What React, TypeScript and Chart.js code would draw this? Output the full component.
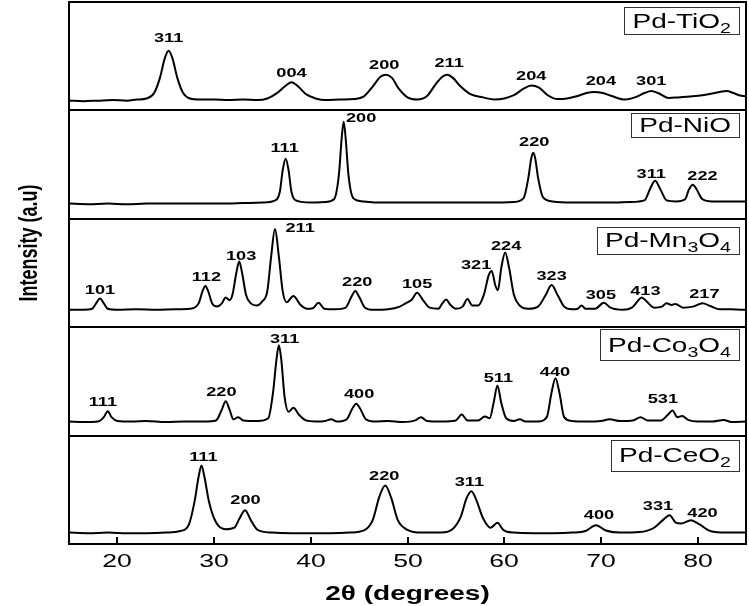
import React, { useEffect, useRef } from "react";
import { Chart, registerables } from "chart.js";
Chart.register(...registerables);

// ---------- data ----------
const xMin = 15;
const xMax = 85;
const xTickValues = [20, 30, 40, 50, 60, 70, 80];
const xTitle = "2θ (degrees)";
const yTitle = "Intensity (a.u)";

// panel names, bottom to top; odd-index parts are subscripts
const panelNames: string[][] = [
  ["Pd-CeO", "2"],
  ["Pd-Co", "3", "O", "4"],
  ["Pd-Mn", "3", "O", "4"],
  ["Pd-NiO"],
  ["Pd-TiO", "2"],
];

// intensity in % of panel height, [2θ, I]
const ceo2: number[][] = [
  [15, 10.5], [17, 10], [19, 10.5], [21, 10], [23, 10], [25, 10.5], [26.5, 12], [27.4, 18],
  [28.0, 40], [28.4, 62], [28.7, 72.5], [29.0, 62], [29.5, 38], [30.2, 20], [31.2, 13.5],
  [32.1, 15], [32.6, 23], [33.2, 31.2], [33.8, 22], [34.5, 13], [36, 10.5], [38, 10], [40, 10],
  [42, 10], [44, 10.5], [45.5, 12.5], [46.4, 22], [47.1, 44], [47.7, 54], [48.3, 43], [49.0, 22],
  [50.0, 13], [51.5, 10.5], [53.5, 10.5], [54.7, 14], [55.5, 25], [56.1, 42], [56.6, 48.6],
  [57.1, 41], [57.8, 24], [58.6, 15], [59.3, 19.6], [59.9, 13], [61, 10.5], [63, 10], [65, 10],
  [67, 10.5], [68.4, 12], [69.5, 17.4], [70.5, 12.5], [72, 10.5], [74, 11], [75.5, 15],
  [76.4, 22], [77.1, 26.6], [77.7, 20], [78.3, 19], [79.3, 22], [80.2, 18], [81.3, 12],
  [83, 10.5], [85, 10.5],
];
const co3o4: number[][] = [
  [15, 13], [16.5, 12.5], [18, 13], [18.6, 17], [19.0, 22.5], [19.4, 17], [20, 13.5], [21.5, 13],
  [23, 13.5], [25, 12.5], [27, 13], [29, 13], [30.2, 14], [30.8, 24], [31.2, 31.8], [31.6, 24],
  [32.0, 15], [32.5, 17], [33.0, 14], [34.5, 13.5], [35.6, 16], [36.1, 40], [36.45, 70],
  [36.7, 83.3], [36.95, 70], [37.3, 35], [37.7, 22], [38.2, 25.6], [38.8, 19], [39.5, 14],
  [40.5, 13], [41.5, 13.5], [42.1, 15], [42.7, 13], [43.7, 15], [44.3, 25], [44.7, 29.3],
  [45.1, 25], [45.7, 15], [46.5, 13], [48, 13.5], [49.5, 12.5], [50.8, 14], [51.4, 17],
  [52.0, 13.5], [53.5, 13], [55.0, 14], [55.6, 19.4], [56.2, 14], [57.3, 14], [58.0, 17.7],
  [58.5, 16], [58.9, 30], [59.3, 46.3], [59.7, 30], [60.2, 16], [61.0, 13.5], [61.6, 15],
  [62.2, 13], [63.5, 13], [64.4, 17], [64.9, 40], [65.3, 53], [65.7, 40], [66.2, 17], [67, 13.5],
  [68.5, 13], [70, 13.5], [70.9, 15], [72.0, 13.5], [73.3, 14], [74.1, 17], [74.8, 14],
  [76.2, 14], [76.9, 19], [77.4, 23.1], [77.9, 17], [78.4, 18], [79.0, 14.5], [80, 13],
  [81.5, 13], [82.7, 14.5], [83.5, 12.5], [85, 13],
];
const mn3o4: number[][] = [
  [15, 16], [16.5, 16], [17.4, 17], [17.8, 22], [18.2, 26.5], [18.6, 22], [19, 17], [20, 16],
  [22, 16.5], [24, 16], [26, 16.5], [27.5, 17], [28.4, 22], [28.8, 33], [29.1, 38], [29.4, 33],
  [29.8, 22], [30.3, 19], [30.8, 22], [31.2, 27.5], [31.6, 25], [31.9, 30], [32.3, 50],
  [32.6, 60.5], [32.9, 50], [33.3, 30], [33.8, 22], [34.4, 20], [35.0, 24], [35.5, 33],
  [35.9, 65], [36.3, 90.5], [36.7, 65], [37.1, 33], [37.5, 23], [38.2, 28.7], [38.9, 21],
  [39.6, 17], [40.2, 17.5], [40.8, 22.5], [41.4, 17], [42.5, 16.5], [43.6, 18], [44.2, 28],
  [44.6, 33.3], [45.0, 28], [45.6, 18], [46.5, 16], [48, 16.5], [49.2, 19], [49.8, 22],
  [50.4, 25], [51.0, 31.8], [51.6, 25], [52.3, 18], [53.2, 17], [53.6, 22], [54.0, 25.6],
  [54.4, 21], [55.0, 17], [55.7, 19], [56.2, 26], [56.7, 20], [57.3, 20], [57.9, 30],
  [58.4, 48], [58.7, 51.8], [59.1, 38], [59.35, 34], [59.7, 55], [60.1, 69], [60.5, 55],
  [61.0, 30], [61.6, 20], [62.5, 17], [63.5, 19], [64.3, 30], [64.9, 38.9], [65.5, 30],
  [66.2, 19], [67, 16.5], [67.6, 17], [68.0, 20], [68.4, 17], [69.4, 17], [70.3, 22.5],
  [71.0, 18], [72.3, 16], [73.2, 18], [73.8, 24], [74.2, 27.5], [74.7, 24], [75.5, 18],
  [76.3, 19], [76.8, 22], [77.3, 20.5], [77.7, 21.5], [78.5, 18], [79.5, 19], [80.5, 22],
  [81.3, 19.5], [82.3, 16.5], [83.5, 16.5], [85, 16],
];
const nio: number[][] = [
  [15, 14], [17, 13.5], [19, 14], [21, 13.5], [23, 14], [25, 14], [27, 14], [29, 14], [31, 14],
  [33, 14.5], [35, 15], [36.2, 16.5], [36.8, 25], [37.1, 45], [37.4, 55.5], [37.7, 45],
  [38.0, 25], [38.6, 16.5], [40, 15], [41.5, 15.5], [42.4, 18], [42.9, 40], [43.2, 75],
  [43.4, 89.5], [43.6, 75], [43.9, 40], [44.4, 19], [45.5, 16], [47, 15], [49, 15], [51, 15],
  [53, 15], [55, 15], [57, 15], [59, 15], [61, 15.5], [62.0, 19], [62.5, 38], [62.8, 56],
  [63.0, 61], [63.2, 56], [63.5, 38], [64.0, 20], [65, 16], [67, 15], [69, 15], [71, 15],
  [73, 15.5], [74.5, 17], [75.1, 28], [75.6, 35], [76.1, 28], [76.8, 17], [77.8, 16],
  [78.7, 18], [79.1, 27], [79.5, 31.5], [79.9, 27], [80.5, 18], [81.5, 16], [83, 16], [85, 16],
];
const tio2: number[][] = [
  [15, 9], [16.5, 8.5], [18, 9], [19.5, 9.5], [21, 9], [22, 10], [23, 11], [23.8, 16],
  [24.4, 30], [24.9, 48], [25.3, 55], [25.7, 48], [26.2, 30], [26.8, 16], [27.5, 11],
  [28.5, 10], [30, 10], [31.5, 9.5], [33, 10], [34.5, 9.5], [35.5, 11], [36.5, 16], [37.3, 22],
  [38, 26], [38.7, 22], [39.5, 15], [40.5, 11], [41.5, 9.5], [43, 10], [44.5, 10.5], [45.5, 13],
  [46.4, 22], [47.2, 31], [47.8, 33], [48.4, 30], [49.1, 20], [50, 12], [51, 10], [52, 13],
  [52.9, 24], [53.6, 31], [54.1, 33], [54.7, 30], [55.5, 22], [56.5, 15], [57.8, 12], [59, 10],
  [60, 11], [61, 14], [62, 20], [62.8, 23], [63.6, 21], [64.5, 14], [65.5, 10.5], [66.5, 11],
  [67.5, 13], [68.5, 16], [69.3, 17], [70.2, 16], [71.2, 13], [72.5, 10], [73.5, 12],
  [74.5, 16], [75.2, 18], [75.9, 16], [77, 11.5], [78, 12], [79.5, 13], [80.5, 14],
  [81.5, 15.5], [82.3, 17], [83, 18], [83.7, 16], [84.3, 14], [85, 13],
];

// peak (hkl) labels: [2θ, level % of panel, text]
const ceo2Peaks: [number, number, string][] = [
  [28.9, 80, "111"], [33.25, 40.4, "200"], [47.6, 62.7, "220"], [56.4, 57.2, "311"],
  [69.8, 26.6, "400"], [75.9, 34.9, "331"], [80.5, 28.2, "420"],
];
const co3o4Peaks: [number, number, string][] = [
  [18.5, 30.9, "111"], [30.75, 40, "220"], [37.3, 88.6, "311"], [45.0, 38, "400"],
  [59.4, 52.5, "511"], [65.25, 58.6, "440"], [76.4, 33, "531"],
];
const mn3o4Peaks: [number, number, string][] = [
  [18.2, 34.3, "101"], [29.2, 45.7, "112"], [32.8, 65.7, "103"], [38.9, 91.4, "211"],
  [44.8, 41, "220"], [51.0, 39.8, "105"], [57.1, 57.4, "321"], [60.2, 74.4, "224"],
  [64.9, 47.2, "323"], [70.0, 29.6, "305"], [74.6, 33.3, "413"], [80.7, 30.6, "217"],
];
const nioPeaks: [number, number, string][] = [
  [37.3, 64.5, "111"], [45.2, 92.6, "200"], [63.1, 70, "220"], [75.2, 40.7, "311"],
  [80.5, 39, "222"],
];
const tio2Peaks: [number, number, string][] = [
  [25.3, 66.5, "311"], [38.0, 34, "004"], [47.6, 41.5, "200"], [54.3, 43, "211"],
  [62.8, 31, "204"], [70.0, 27, "204"], [75.2, 26.5, "301"],
];

const series = [ceo2, co3o4, mn3o4, nio, tio2];
const peakLabels = [ceo2Peaks, co3o4Peaks, mn3o4Peaks, nioPeaks, tio2Peaks];

// ---------- styles ----------
const SX = 1.4; // horizontal text stretch
const FONT = "'Liberation Sans', Arial, sans-serif";
const boxTopOffset = [4, 2, 8, 3, 5];
const boxHeight = [31, 31, 27, 24, 27];

function stretchText(ctx: CanvasRenderingContext2D, t: string, px: number, py: number, font: string) {
  ctx.save();
  ctx.translate(px, py);
  ctx.scale(SX, 1);
  ctx.font = font;
  ctx.textAlign = "center";
  ctx.textBaseline = "middle";
  ctx.fillStyle = "#000";
  ctx.fillText(t, 0, 0);
  ctx.restore();
}

const decor = {
  id: "decor",
  beforeDraw(chart: any) {
    const ctx = chart.ctx;
    ctx.save();
    ctx.fillStyle = "#fff";
    ctx.fillRect(0, 0, chart.width, chart.height);
    ctx.restore();
  },
  afterDraw(chart: any) {
    const ctx: CanvasRenderingContext2D = chart.ctx;
    const a = chart.chartArea;
    const xs = chart.scales.x;
    const ys = chart.scales.y;
    ctx.save();
    ctx.strokeStyle = "#000";
    ctx.lineWidth = 2;
    ctx.strokeRect(a.left, a.top, a.right - a.left, a.bottom - a.top);
    for (let k = 1; k < series.length; k++) {
      const py = Math.round(ys.getPixelForValue(k));
      ctx.beginPath();
      ctx.moveTo(a.left, py);
      ctx.lineTo(a.right, py);
      ctx.stroke();
    }
    // inner ticks + tick labels
    for (const v of xTickValues) {
      const px = Math.round(xs.getPixelForValue(v));
      ctx.beginPath();
      ctx.moveTo(px, a.bottom);
      ctx.lineTo(px, a.bottom - 7);
      ctx.stroke();
      stretchText(ctx, String(v), px, a.bottom + 18, `19px ${FONT}`);
    }
    // axis titles
    stretchText(ctx, xTitle, (a.left + a.right) / 2, a.bottom + 50, `bold 20px ${FONT}`);
    ctx.save();
    ctx.translate(30, 243);
    ctx.scale(SX, 1);
    ctx.rotate(-Math.PI / 2);
    ctx.font = `bold 18px ${FONT}`;
    ctx.textAlign = "center";
    ctx.textBaseline = "middle";
    ctx.fillStyle = "#000";
    ctx.fillText(yTitle, 0, 0);
    ctx.restore();
    // peak labels
    peakLabels.forEach((labels, k) => {
      for (const [x, f, t] of labels) {
        stretchText(ctx, t, xs.getPixelForValue(x), ys.getPixelForValue(k + f / 100), `bold 13px ${FONT}`);
      }
    });
    // name boxes
    panelNames.forEach((parts, k) => {
      const bigFont = `20px ${FONT}`;
      const subFont = `14px ${FONT}`;
      let w = 0;
      parts.forEach((p, i) => {
        ctx.font = i % 2 ? subFont : bigFont;
        w += ctx.measureText(p).width * SX;
      });
      const right = a.right - 7;
      const left = right - w - 16;
      const top = ys.getPixelForValue(k + 1) + boxTopOffset[k];
      const h = boxHeight[k];
      ctx.lineWidth = 1;
      ctx.strokeStyle = "#333";
      ctx.strokeRect(Math.round(left) + 0.5, Math.round(top) + 0.5, Math.round(right - left), h);
      let cx = left + 8;
      const base = top + h / 2 + 7;
      parts.forEach((p, i) => {
        ctx.save();
        ctx.font = i % 2 ? subFont : bigFont;
        const pw = ctx.measureText(p).width;
        ctx.translate(cx, i % 2 ? base + 5 : base);
        ctx.scale(SX, 1);
        ctx.fillStyle = "#000";
        ctx.textAlign = "left";
        ctx.textBaseline = "alphabetic";
        ctx.fillText(p, 0, 0);
        ctx.restore();
        cx += pw * SX;
      });
    });
    ctx.restore();
  },
};

export default function App() {
  const ref = useRef<HTMLCanvasElement>(null);
  useEffect(() => {
    document.body.style.margin = "0";
    const chart = new Chart(ref.current as HTMLCanvasElement, {
      type: "line",
      data: {
        datasets: series.map((pts, k) => ({
          data: pts.map(([x, f]) => ({ x, y: k + f / 100 })),
          borderColor: "#000",
          borderWidth: 2,
          pointRadius: 0,
          fill: false,
          cubicInterpolationMode: "monotone" as const,
        })),
      },
      options: {
        animation: false,
        responsive: false,
        layout: { padding: { left: 69, right: 3, top: 2, bottom: 62 } },
        plugins: { legend: { display: false }, tooltip: { enabled: false } },
        scales: {
          x: { type: "linear", min: xMin, max: xMax, display: false },
          y: { type: "linear", min: 0, max: series.length, display: false },
        },
      },
      plugins: [decor],
    });
    return () => chart.destroy();
  }, []);
  return (
    <div style={{ position: "fixed", left: 0, top: 0, width: 749, height: 606, background: "#fff" }}>
      <canvas ref={ref} width={749} height={606} />
    </div>
  );
}
